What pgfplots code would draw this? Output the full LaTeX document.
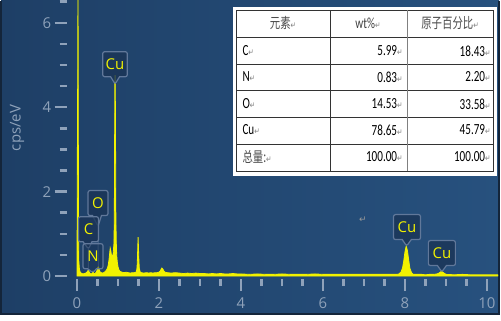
\documentclass[border=0pt]{standalone}
\usepackage{fontspec}
\setmainfont{Open Sans}
\newfontfamily\tabfont{Carlito}
\newfontfamily\cjk{Noto Sans CJK SC}
\newfontfamily\symfont{DejaVu Sans}
\usepackage{graphicx}
\usepackage{pgfplots}
\pgfplotsset{compat=1.18}
\usetikzlibrary{shapes.callouts}
\definecolor{bgL}{HTML}{1E3F66}
\definecolor{bgR}{HTML}{27517E}
\definecolor{tickc}{HTML}{8FA2BA}
\definecolor{specY}{HTML}{F2F200}
\definecolor{boxfill}{HTML}{1A3456}
\definecolor{boxdraw}{HTML}{61789A}
\definecolor{frame}{HTML}{14253A}
\newcommand{\pmark}{{\symfont\fontsize{9}{9}\selectfont\textcolor{gray}{↵}}}
\newcommand{\tb}[1]{\scalebox{0.72}[1]{\tabfont\fontsize{15.5}{15.5}\selectfont #1\pmark}}
\newcommand{\tc}[1]{\scalebox{0.72}[1]{\cjk\fontsize{14.5}{14.5}\selectfont\color{black!70}#1\pmark}}

\pgfplotstableread{
x y
0.000 0.00
0.005 1.50
0.012 3.80
0.018 4.80
0.024 6.90
0.030 4.80
0.036 1.30
0.045 0.35
0.060 0.15
0.080 0.09
0.100 0.07
0.120 0.06
0.150 0.05
0.180 0.06
0.210 0.07
0.240 0.09
0.260 0.12
0.277 0.14
0.295 0.10
0.320 0.06
0.350 0.05
0.375 0.07
0.392 0.09
0.410 0.06
0.440 0.06
0.470 0.09
0.495 0.15
0.510 0.21
0.525 0.22
0.540 0.16
0.560 0.10
0.590 0.08
0.620 0.07
0.650 0.08
0.680 0.10
0.710 0.13
0.740 0.18
0.760 0.25
0.780 0.38
0.795 0.52
0.810 0.66
0.825 0.60
0.840 0.50
0.860 0.46
0.880 0.52
0.900 0.75
0.910 1.30
0.918 3.30
0.925 4.75
0.932 4.75
0.940 3.30
0.948 1.40
0.958 0.80
0.968 0.50
0.980 0.35
1.000 0.22
1.020 0.15
1.050 0.11
1.100 0.09
1.150 0.08
1.200 0.09
1.250 0.08
1.300 0.07
1.350 0.08
1.400 0.08
1.440 0.09
1.460 0.16
1.470 0.30
1.480 0.60
1.490 0.92
1.500 0.66
1.510 0.36
1.520 0.18
1.540 0.10
1.570 0.08
1.620 0.07
1.700 0.08
1.750 0.07
1.800 0.08
1.850 0.07
1.900 0.08
1.950 0.08
2.000 0.09
2.030 0.12
2.050 0.16
2.070 0.19
2.090 0.17
2.120 0.12
2.150 0.09
2.200 0.08
2.300 0.07
2.400 0.08
2.500 0.07
2.600 0.06
2.700 0.07
2.800 0.06
2.900 0.07
3.000 0.06
3.100 0.06
3.200 0.05
3.300 0.06
3.400 0.05
3.500 0.06
3.600 0.05
3.700 0.05
3.800 0.06
3.900 0.05
4.000 0.05
4.200 0.04
4.400 0.05
4.600 0.04
4.800 0.04
5.000 0.05
5.200 0.04
5.400 0.04
5.600 0.04
5.800 0.05
6.000 0.04
6.200 0.04
6.400 0.04
6.600 0.04
6.800 0.04
7.000 0.04
7.200 0.04
7.400 0.04
7.600 0.04
7.800 0.04
7.850 0.05
7.900 0.09
7.940 0.19
7.970 0.36
8.000 0.58
8.030 0.71
8.060 0.60
8.090 0.38
8.120 0.18
8.160 0.08
8.200 0.04
8.300 0.04
8.400 0.04
8.500 0.03
8.600 0.04
8.700 0.04
8.780 0.05
8.830 0.07
8.870 0.10
8.910 0.10
8.950 0.07
9.000 0.04
9.200 0.03
9.400 0.04
9.600 0.03
9.800 0.03
10.000 0.03
10.200 0.03
10.270 0.03
}\spectrum

\tikzset{lbl/.style={rectangle callout, fill=boxfill, fill opacity=0.8, text opacity=1,
  draw=boxdraw, line width=1.2bp, rounded corners=2bp, text=specY,
  font=\fontsize{15}{15}\selectfont, minimum height=25bp, minimum width=20bp,
  inner xsep=3bp, inner ysep=2bp, callout pointer width=9bp}}

\begin{document}
\begin{tikzpicture}[x=1bp,y=1bp]
\fill[white] (0,0) rectangle (501,319);
\shade[left color=bgL, right color=bgR] (1,6) rectangle (499,319);
\draw[frame, line width=2bp] (1,319) -- (1,6) -- (499,6) -- (499,319);
\begin{axis}[
  at={(66.75bp,41bp)}, anchor=south west, scale only axis,
  width=431.3bp, height=278.1bp,
  xmin=-0.25, xmax=10.27, ymin=-0.07, ymax=6.52,
  axis line style={draw=none},
  tick align=outside, xtick pos=left, ytick pos=left,
  xtick={0,2,4,6,8,10}, ytick={0,2,4,6},
  minor xtick={0.5,1,1.5,2.5,3,3.5,4.5,5,5.5,6.5,7,7.5,8.5,9,9.5},
  minor ytick={0.5,1,1.5,2.5,3,3.5,4.5,5,5.5,6.5},
  major tick length=12bp, minor tick length=7bp,
  tick style={tickc, line width=2.5bp},
  tick label style={tickc, font=\fontsize{15}{15}\selectfont},
  xticklabel style={yshift=-3bp},
  /pgf/number format/assume math mode=true,
  ylabel={cps/eV},
  ylabel style={at={(axis description cs:-0.1153,0.543)}, anchor=center, tickc, font=\fontsize{15}{15}\selectfont},
]
\addplot[draw=specY, line width=0.8bp, fill=specY] table[x=x,y=y] {\spectrum} \closedcycle;
% pointer lines
\draw[boxdraw, line width=1bp, opacity=0.7] (axis cs:0.512,1.18) -- (axis cs:0.52,0.22);
\draw[boxdraw, line width=1bp, opacity=0.7] (axis cs:0.28,0.64) -- (axis cs:0.277,0.14);
\node[lbl, callout absolute pointer={(axis cs:0.93,4.55)}] at (axis cs:0.927,5.02) {Cu};
\node[lbl, callout absolute pointer={(axis cs:0.512,1.18)}] at (axis cs:0.512,1.73) {O};
\node[lbl, callout absolute pointer={(axis cs:0.28,0.64)}] at (axis cs:0.28,1.11) {C};
\node[lbl, fill opacity=0.5, callout absolute pointer={(axis cs:0.39,0.08)}] at (axis cs:0.39,0.47) {N};
\node[lbl, minimum width=27bp, callout absolute pointer={(axis cs:8.04,0.71)}] at (axis cs:8.05,1.16) {Cu};
\node[lbl, minimum width=27bp, callout absolute pointer={(axis cs:8.9,0.10)}] at (axis cs:8.9,0.545) {Cu};
\node[text=gray!80] at (axis cs:6.97,1.34) {\symfont\fontsize{9}{9}\selectfont ↵};
\end{axis}
% table
\fill[white] (233,144) rectangle (497,313);
\draw[black!80, line width=0.8bp] (236,149) rectangle (493,310);
\foreach \yy in {283,256,230,203,176} \draw[black!80, line width=0.8bp] (236,\yy) -- (493,\yy);
\draw[black!80, line width=0.8bp] (330,149) -- (330,310);
\draw[gray, line width=1bp] (407,149) -- (407,310);
\node at (283,297) {\tc{元素}};
\node at (368,297) {\tb{\color{black!75}wt\%}};
\node at (450,297) {\tc{原子百分比}};
\node[anchor=west] at (239,269) {\tb{C}};
\node[anchor=west] at (239,243) {\tb{N}};
\node[anchor=west] at (239,216) {\tb{O}};
\node[anchor=west] at (239,190) {\tb{Cu}};
\node[anchor=west] at (239,163) {\tc{总量:}};
\node[anchor=east] at (406,269) {\tb{5.99}};
\node[anchor=east] at (406,243) {\tb{0.83}};
\node[anchor=east] at (406,216) {\tb{14.53}};
\node[anchor=east] at (406,190) {\tb{78.65}};
\node[anchor=east] at (406,163) {\tb{100.00}};
\node[anchor=east] at (494,269) {\tb{18.43}};
\node[anchor=east] at (494,243) {\tb{2.20}};
\node[anchor=east] at (494,216) {\tb{33.58}};
\node[anchor=east] at (494,190) {\tb{45.79}};
\node[anchor=east] at (494,163) {\tb{100.00}};
\end{tikzpicture}
\end{document}
